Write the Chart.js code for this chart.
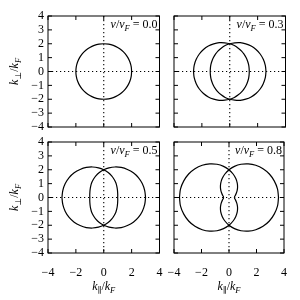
<!DOCTYPE html>
<html>
<head>
<meta charset="utf-8">
<script src="https://cdn.jsdelivr.net/npm/chart.js@4.4.1/dist/chart.umd.min.js"></script>
<style>
html,body{margin:0;padding:0;background:#fff;}
#wrap{position:relative;width:300px;height:300px;}
canvas{position:absolute;left:0;top:0;}
</style>
</head>
<body>
<div id="wrap">
<canvas id="c0" width="300" height="300"></canvas>
<canvas id="c1" width="300" height="300"></canvas>
<canvas id="c2" width="300" height="300"></canvas>
<canvas id="c3" width="300" height="300"></canvas>
</div>
<script>
// ---- data ----
const velocityLabels = ['0.0', '0.3', '0.5', '0.8'];
const anglesDeg = [0,10,20,30,40,50,60,70,80,90,100,110,120,130,140,150,160,170,180];
// radial distance of the shifted Fermi contour at each angle (units of k_F)
const radiusV00 = [2.00,2.00,2.00,2.00,2.00,2.00,2.00,2.00,2.00,2.00,2.00,2.00,2.00,2.00,2.00,2.00,2.00,2.00,2.00];
const radiusV03 = [2.60,2.59,2.56,2.52,2.46,2.39,2.30,2.21,2.10,2.00,1.90,1.79,1.70,1.61,1.54,1.48,1.44,1.41,1.40];
const radiusV05 = [3.00,2.98,2.94,2.87,2.77,2.64,2.50,2.34,2.17,2.00,1.83,1.66,1.50,1.36,1.23,1.13,1.06,1.02,1.00];
const radiusV08 = [3.60,3.58,3.50,3.39,3.23,3.03,2.80,2.55,2.28,2.00,1.72,1.45,1.20,0.97,0.77,0.61,0.50,0.42,0.40];
const radiusSets = [radiusV00, radiusV03, radiusV05, radiusV08];
const xTicks = [-4, -2, 0, 2, 4];
const yTicks = [-4, -3, -2, -1, 0, 1, 2, 3, 4];

// ---- build contours (right-moving and mirrored left-moving) ----
function contour(radii, sign) {
  const pts = [];
  for (let i = 0; i < anglesDeg.length; i++) {
    const a = anglesDeg[i] * Math.PI / 180;
    pts.push({x: sign * radii[i] * Math.cos(a), y: radii[i] * Math.sin(a)});
  }
  for (let i = anglesDeg.length - 2; i >= 0; i--) {
    const a = anglesDeg[i] * Math.PI / 180;
    pts.push({x: sign * radii[i] * Math.cos(a), y: -radii[i] * Math.sin(a)});
  }
  return pts;
}
function isSymmetric(radii) {
  return radii.every((r, i) => r === radii[radii.length - 1 - i]);
}

const SERIF = '"Liberation Serif", "DejaVu Serif", serif';
const MAIN = 12, SUB = 8.5;

function richWidth(ctx, segs) {
  let w = 0;
  for (const s of segs) {
    ctx.font = (s.it ? 'italic ' : '') + (s.sub ? SUB : MAIN) + 'px ' + SERIF;
    w += ctx.measureText(s.t).width;
  }
  return w;
}
function drawRich(ctx, segs, x, y, align) {
  const w = richWidth(ctx, segs);
  let cx = align === 'right' ? x - w : (align === 'center' ? x - w / 2 : x);
  ctx.textBaseline = 'alphabetic';
  ctx.textAlign = 'left';
  ctx.fillStyle = '#000';
  for (const s of segs) {
    ctx.font = (s.it ? 'italic ' : '') + (s.sub ? SUB : MAIN) + 'px ' + SERIF;
    ctx.fillText(s.t, cx, y + (s.sub ? 2.5 : 0));
    cx += ctx.measureText(s.t).width;
  }
}

const decor = {
  id: 'decor',
  beforeDatasetsDraw(chart, args, opts) {
    const {ctx, chartArea: ca, scales} = chart;
    const xs = scales.x, ys = scales.y;
    ctx.save();
    ctx.strokeStyle = '#000';
    ctx.lineWidth = 1.1;
    ctx.setLineDash([1.2, 2.8]);
    const x0 = xs.getPixelForValue(0), y0 = ys.getPixelForValue(0);
    ctx.beginPath();
    ctx.moveTo(x0, ca.top); ctx.lineTo(x0, ca.bottom);
    ctx.moveTo(ca.left, y0); ctx.lineTo(ca.right, y0);
    ctx.stroke();
    ctx.restore();
  },
  afterDatasetsDraw(chart, args, opts) {
    const {ctx, chartArea: ca, scales} = chart;
    const xs = scales.x, ys = scales.y;
    ctx.save();
    ctx.strokeStyle = '#000';
    ctx.lineWidth = 1;
    ctx.setLineDash([]);
    ctx.strokeRect(ca.left, ca.top, ca.right - ca.left, ca.bottom - ca.top);
    const tl = 4;
    ctx.beginPath();
    for (const v of xTicks) {
      const px = xs.getPixelForValue(v);
      ctx.moveTo(px, ca.top); ctx.lineTo(px, ca.top + tl);
      ctx.moveTo(px, ca.bottom); ctx.lineTo(px, ca.bottom - tl);
    }
    for (const v of yTicks) {
      const py = ys.getPixelForValue(v);
      ctx.moveTo(ca.left, py); ctx.lineTo(ca.left + tl, py);
      ctx.moveTo(ca.right, py); ctx.lineTo(ca.right - tl, py);
    }
    ctx.stroke();
    drawRich(ctx, [
      {t: 'v', it: true}, {t: '/'}, {t: 'v', it: true}, {t: 'F', it: true, sub: true},
      {t: ' = ' + opts.label}
    ], ca.right - 2, ca.top + 12, 'right');
    if (opts.yTitle) {
      ctx.save();
      ctx.translate(14, (ca.top + ca.bottom) / 2);
      ctx.rotate(-Math.PI / 2);
      drawRich(ctx, [
        {t: 'k', it: true}, {t: '⊥', sub: true}, {t: '/'}, {t: 'k', it: true}, {t: 'F', it: true, sub: true}
      ], 0, 4, 'center');
      ctx.restore();
    }
    if (opts.xTitle) {
      drawRich(ctx, [
        {t: 'k', it: true}, {t: '∥', sub: true}, {t: '/'}, {t: 'k', it: true}, {t: 'F', it: true, sub: true}
      ], (ca.left + ca.right) / 2, 290, 'center');
    }
    ctx.restore();
  }
};

const fmt = v => (v < 0 ? '\u2212' + Math.abs(v) : String(v));

const panels = [
  {id: 'c0', pad: {left: 0, top: 16, right: 140.5, bottom: 173}, showY: true, showX: false},
  {id: 'c1', pad: {left: 174, top: 16, right: 14.5, bottom: 173}, showY: false, showX: false},
  {id: 'c2', pad: {left: 0, top: 142, right: 140.5, bottom: 0}, showY: true, showX: true},
  {id: 'c3', pad: {left: 174, top: 142, right: 14.5, bottom: 0}, showY: false, showX: true}
];

panels.forEach((p, i) => {
  const radii = radiusSets[i];
  const lineStyle = {borderColor: '#000', borderWidth: 1.2, pointRadius: 0, showLine: true, tension: 0.4, fill: false};
  new Chart(document.getElementById(p.id), {
    type: 'scatter',
    data: {
      datasets: [
        Object.assign({label: 'right', data: contour(radii, 1)}, lineStyle),
        Object.assign({label: 'left', data: contour(radii, -1), hidden: isSymmetric(radii)}, lineStyle)
      ]
    },
    options: {
      responsive: false,
      animation: false,
      events: [],
      layout: {padding: p.pad},
      plugins: {
        legend: {display: false},
        tooltip: {enabled: false},
        decor: {label: velocityLabels[i], yTitle: p.showY, xTitle: p.showX}
      },
      scales: {
        x: {
          type: 'linear', min: -4, max: 4,
          display: p.showX,
          grid: {display: false, drawTicks: false},
          border: {display: false},
          ticks: {stepSize: 2, autoSkip: false, padding: 13, color: '#000', font: {family: SERIF, size: 12}, callback: fmt, maxRotation: 0},
          afterFit: s => { if (p.showX) s.height = 47; }
        },
        y: {
          type: 'linear', min: -4, max: 4,
          display: p.showY,
          grid: {display: false, drawTicks: false},
          border: {display: false},
          ticks: {stepSize: 1, autoSkip: false, padding: 4, color: '#000', font: {family: SERIF, size: 12}, callback: fmt},
          afterFit: s => { if (p.showY) s.width = 48; }
        }
      }
    },
    plugins: [decor]
  });
});
</script>
</body>
</html>
